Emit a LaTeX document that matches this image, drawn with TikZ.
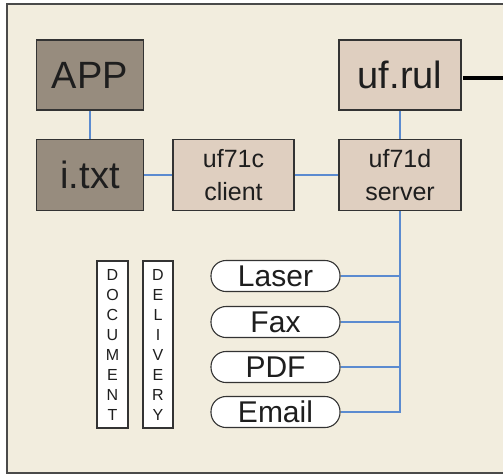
\documentclass[tikz,border=0pt]{standalone}
\usepackage{fontspec}
\setmainfont{Liberation Sans}
\definecolor{cream}{HTML}{F2EDDE}
\definecolor{darkbox}{HTML}{978C7E}
\definecolor{lightbox}{HTML}{DFCFC0}
\definecolor{linkblue}{HTML}{5B8BD0}
\definecolor{edge}{HTML}{333333}
\definecolor{framec}{HTML}{4A4A4A}
\definecolor{txt}{HTML}{1E1E1E}
\begin{document}
\begin{tikzpicture}[x=1pt,y=-1pt,
  box/.style={draw=edge,line width=1.3pt,inner sep=0pt,text=txt},
  bigbox/.style={box,minimum width=107pt,minimum height=70pt,font=\fontsize{38}{40}\selectfont},
  midbox/.style={box,fill=lightbox,minimum width=122pt,minimum height=71pt,align=center,font=\fontsize{25}{33}\selectfont},
  pill/.style={draw=edge,line width=1.1pt,fill=white,rounded corners=15pt,minimum width=129pt,minimum height=31pt,inner sep=0pt,text=txt,font=\fontsize{30}{32}\selectfont},
  vbox/.style={draw=edge,line width=1.1pt,fill=white,minimum width=30pt,minimum height=167pt,inner sep=0pt,align=center,text=txt,font=\fontsize{16}{20}\selectfont},
  link/.style={draw=linkblue,line width=2pt}]
\useasboundingbox (0,0) rectangle (503,474);
\fill[white] (0,0) rectangle (503,474);
\draw[draw=framec,fill=cream,line width=2pt] (7,4) rectangle (512,473);
\coordinate (out) at (510,72);
\node[bigbox,fill=darkbox] (app) at (90,75) {APP};
\node[bigbox,fill=darkbox,minimum height=71pt] (itxt) at (90,175) {i.txt};
\node[midbox,minimum width=121pt] (client) at (233.5,175) {uf71c\\client};
\node[midbox] (server) at (400,175) {uf71d\\server};
\node[bigbox,fill=lightbox,minimum width=122pt] (rul) at (400,75) {uf.rul};
\node[pill] (laser) at (275.5,276) {Laser};
\node[pill] (fax) at (275.5,322) {Fax};
\node[pill] (pdf) at (275.5,367) {PDF};
\node[pill] (email) at (275.5,412) {Email};
\node[vbox,minimum width=31pt] (doc) at (112.5,344.5) {D\\O\\C\\U\\M\\E\\N\\T};
\node[vbox] (del) at (158,344.5) {D\\E\\L\\I\\V\\E\\R\\Y};
\draw[link] (app) -- (itxt);
\draw[link] (itxt) -- (client);
\draw[link] (client) -- (server);
\draw[link] (rul) -- (server);
\draw[link] (server.south) |- (email.east);
\draw[link] (laser.east) -- (laser.east -| server.south);
\draw[link] (fax.east) -- (fax.east -| server.south);
\draw[link] (pdf.east) -- (pdf.east -| server.south);
\draw[line width=4pt,black] ([xshift=1.5pt,yshift=-3pt]rul.east) -- ([yshift=-3pt]rul.east -| out);
\end{tikzpicture}
\end{document}
